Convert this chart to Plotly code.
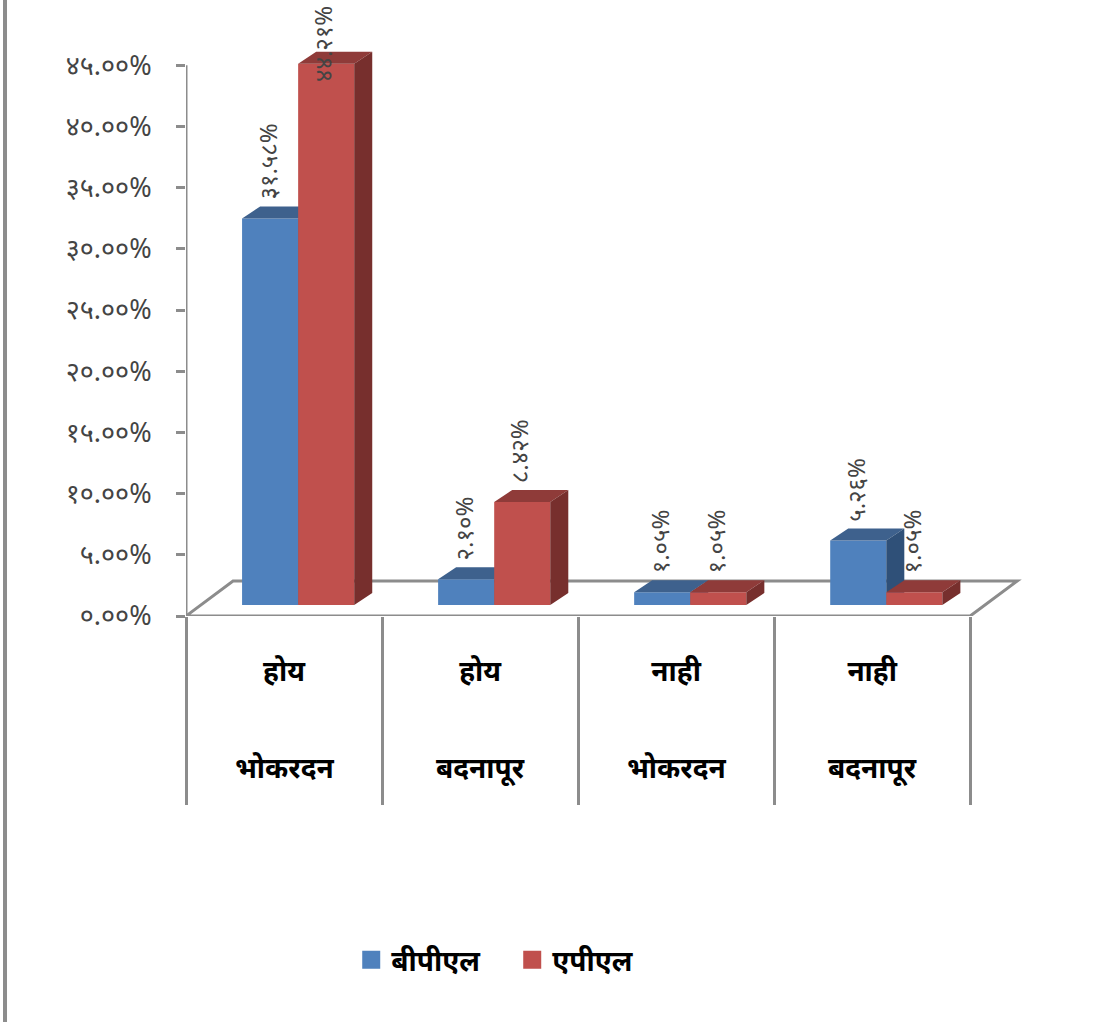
import plotly.graph_objects as go

regions = ["भोकरदन", "बदनापूर", "भोकरदन", "बदनापूर"]
answers = ["होय", "होय", "नाही", "नाही"]
series_names = ["बीपीएल", "एपीएल"]
bpl_values = [31.58, 2.10, 1.05, 5.26]
apl_values = [44.21, 8.42, 1.05, 1.05]
bpl_labels = ["३१.५८%", "२.१०%", "१.०५%", "५.२६%"]
apl_labels = ["४४.२१%", "८.४२%", "१.०५%", "१.०५%"]
y_ticks = [0, 5, 10, 15, 20, 25, 30, 35, 40, 45]
y_tick_labels = ["०.००%", "५.००%", "१०.००%", "१५.००%", "२०.००%", "२५.००%", "३०.००%", "३५.००%", "४०.००%", "४५.००%"]

FONT = "Noto Sans, Liberation Sans, sans-serif"
GRAY = "#8c8c8c"
BASE = 0.9      # bars stand on the floor, a little behind the axis
W = 0.286       # bar width in category units
START = 0.286   # left edge of the first bar within a category
DX, DY = 0.092, 0.98      # bar depth
FX, FY = 0.24, 2.86       # floor depth
XMAX, YMAX = 4.3, 50      # room for the depth faces and labels beyond the axis ends

fig = go.Figure()

def add_series(vals, name, offset, front, top, side, xa, ya):
    xs = [i + START + offset * W + W / 2 for i in range(len(vals))]
    fig.add_trace(go.Bar(x=xs, y=vals, base=[BASE] * len(vals), width=W, name=name,
                         marker=dict(color=front, line_width=0),
                         showlegend=False, xaxis=xa, yaxis=ya))
    tx, ty, sx, sy = [], [], [], []
    for c, v in zip(xs, vals):
        l, r, b, t = c - W / 2, c + W / 2, BASE, BASE + v
        tx += [l, r, r + DX, l + DX, l, None]
        ty += [t, t, t + DY, t + DY, t, None]
        sx += [r, r + DX, r + DX, r, r, None]
        sy += [b, b + DY, t + DY, t, b, None]
    for px, py, col in ((tx, ty, top), (sx, sy, side)):
        fig.add_trace(go.Scatter(x=px, y=py, mode="lines", fill="toself", fillcolor=col,
                                 line=dict(width=0, color=col),
                                 hoverinfo="skip", showlegend=False, xaxis=xa, yaxis=ya))
    return xs

xs_b = add_series(bpl_values, series_names[0], 0, "#4F81BD", "#3E618D", "#2F5078", "x", "y")
xs_a = add_series(apl_values, series_names[1], 1, "#C0504D", "#8F3B39", "#772F2D", "x2", "y2")

# legend entries
for name, col in zip(series_names, ("#4F81BD", "#C0504D")):
    fig.add_trace(go.Scatter(x=[None], y=[None], mode="markers", name=name,
                             marker=dict(symbol="square", size=16, color=col, line=dict(width=2, color=col))))

annotations = []
for xs, vals, labels in ((xs_b, bpl_values, bpl_labels), (xs_a, apl_values, apl_labels)):
    for c, v, t in zip(xs, vals, labels):
        annotations.append(dict(x=c, y=BASE + v, xref="x", yref="y", text=t, textangle=-90,
                                showarrow=False, xanchor="center", yanchor="bottom",
                                xshift=-3, yshift=-20 if v > 40 else 17,
                                font=dict(family=FONT, size=24, color="#444444")))

tickcenters = [i + 0.5 for i in range(len(regions))]
dividers = list(range(len(regions) + 1))

for c, r in zip(tickcenters, regions):
    annotations.append(dict(x=c, y=0, xref="x", yref="y", text=r, showarrow=False,
                            xanchor="center", yanchor="middle", yshift=-151,
                            font=dict(family=FONT, size=28, color="black", weight="bold")))

xbase = dict(range=[0, XMAX], fixedrange=True, zeroline=False, showgrid=False)
ybase = dict(range=[0, YMAX], fixedrange=True, zeroline=False, showgrid=False)

fig.update_layout(
    width=1105, height=1022, margin=dict(l=186, r=76, t=4, b=406),
    paper_bgcolor="white", plot_bgcolor="rgba(0,0,0,0)", barmode="overlay",
    font=dict(family=FONT),
    xaxis=dict(**xbase,
               tickmode="array", tickvals=tickcenters, ticktext=answers, ticks="",
               ticklabelstandoff=36,
               tickfont=dict(family=FONT, size=28, color="black", weight="bold"),
               minor=dict(tickmode="array", tickvals=dividers, ticks="outside", ticklen=188,
                          tickwidth=3, tickcolor=GRAY)),
    yaxis=dict(**ybase,
               tickmode="array", tickvals=y_ticks, ticktext=y_tick_labels, ticks="outside",
               ticklen=9, tickwidth=3, tickcolor=GRAY, ticklabelstandoff=19,
               tickfont=dict(family=FONT, size=27, color="#444444")),
    xaxis2=dict(**xbase, overlaying="x", visible=False),
    yaxis2=dict(**ybase, overlaying="y", visible=False),
    legend=dict(orientation="h", x=0.196, y=-0.562, xanchor="left", yanchor="middle",
                font=dict(family=FONT, size=28, color="black", weight="bold"),
                entrywidth=116, entrywidthmode="pixels"),
    annotations=annotations,
    shapes=[
        dict(type="path", xref="x", yref="y", layer="below",
             path=f"M 0 0 L {FX} {FY} L {4 + FX} {FY} L 4 0 Z",
             fillcolor="white", line=dict(color=GRAY, width=3)),
        dict(type="line", xref="x", yref="y", layer="below", x0=0, x1=0, y0=0, y1=y_ticks[-1],
             line=dict(color=GRAY, width=3)),
        dict(type="line", xref="paper", yref="paper", x0=-0.2147, x1=-0.2147, y0=-0.7, y1=1.02,
             line=dict(color=GRAY, width=4)),
    ],
)

fig.write_html("out.html", post_script="document.body.style.margin='0';",
               config=dict(displayModeBar=False))
